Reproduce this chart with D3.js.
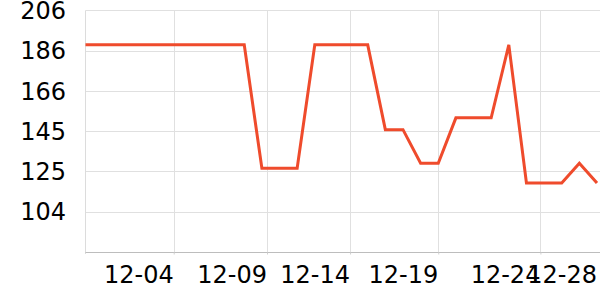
<!DOCTYPE html>
<html>
<head>
<meta charset="utf-8">
<script src="https://cdn.jsdelivr.net/npm/d3@7"></script>
<style>
  html, body { margin: 0; padding: 0; background: #fff; }
  svg { display: block; font-family: "DejaVu Sans", sans-serif; }
</style>
</head>
<body>
<div id="chart"></div>
<script>
const width = 600;
const height = 300;
const margin = { top: 10.5, right: 3, bottom: 48, left: 85.5 };

// daily points, 11-29 .. 12-28
const startDate = "2023-11-29";
const values = [
  189, 189, 189, 189, 189, 189, 189, 189, 189, 189,
  126.5, 126.5, 126.5,
  189, 189, 189, 189,
  146, 146,
  129, 129,
  152, 152, 152,
  189,
  119, 119, 119,
  129,
  119
];

// tick dates as they sit on the original axis
const xTickDates = [
  "2023-12-04T00:00", "2023-12-09T07:00", "2023-12-14T00:00",
  "2023-12-19T00:00", "2023-12-24T19:00", "2023-12-28T00:00"
];
const yDomain = [84, 206.4];
const yTickCount = 6;

const parse = d3.isoParse;
const t0 = parse(startDate + "T00:00");
const dates = d3.range(values.length).map((i) => d3.timeDay.offset(t0, i));
const data = dates.map((d, i) => ({ date: d, value: values[i] }));

const x = d3
  .scaleTime()
  .domain(d3.extent(dates))
  .range([margin.left, width - margin.right]);

const y = d3
  .scaleLinear()
  .domain(yDomain)
  .range([height - margin.bottom, margin.top]);

const yTicks = d3
  .range(yTickCount + 1)
  .map((i) => yDomain[0] + (i * (yDomain[1] - yDomain[0])) / yTickCount);
const xTicks = xTickDates.map(parse);
// the last label sits on the right edge, without a grid line
const gridTicks = xTicks.slice(0, -1);

const svg = d3
  .create("svg")
  .attr("width", width)
  .attr("height", height)
  .attr("viewBox", [0, 0, width, height]);

// horizontal grid
svg
  .append("g")
  .selectAll("line")
  .data(yTicks.slice(1))
  .join("line")
  .attr("x1", margin.left)
  .attr("x2", width)
  .attr("y1", (d) => Math.round(y(d)) + 0.5)
  .attr("y2", (d) => Math.round(y(d)) + 0.5)
  .attr("stroke", "#e0e0e0");

// vertical grid
svg
  .append("g")
  .selectAll("line")
  .data(gridTicks)
  .join("line")
  .attr("x1", (d) => Math.round(x(d)) + 0.5)
  .attr("x2", (d) => Math.round(x(d)) + 0.5)
  .attr("y1", margin.top)
  .attr("y2", height - margin.bottom)
  .attr("stroke", "#e0e0e0");

// left axis line
svg
  .append("line")
  .attr("x1", margin.left)
  .attr("x2", margin.left)
  .attr("y1", margin.top)
  .attr("y2", height - margin.bottom + 2)
  .attr("stroke", "#dcdcdc");

// bottom axis
const gx = svg
  .append("g")
  .attr("transform", `translate(0,${Math.round(height - margin.bottom) + 0.5})`)
  .call(
    d3
      .axisBottom(x)
      .tickValues(xTicks)
      .tickSize(2)
      .tickFormat(d3.timeFormat("%m-%d"))
  );
gx.select(".domain").attr("stroke", "#bdbdbd").attr("d", `M${margin.left},0H${width}`);
gx.selectAll(".tick line")
  .attr("stroke", "#d0d0d0")
  .attr("display", (d, i) => (i === xTicks.length - 1 ? "none" : null));
gx.selectAll(".tick text")
  .attr("text-anchor", "end")
  .attr("x", -0.5)
  .attr("y", 30.5)
  .attr("dy", 0)
  .attr("fill", "#000")
  .attr("font-size", "24px")
  .attr("font-family", "DejaVu Sans, sans-serif");

// y labels
svg
  .append("g")
  .selectAll("text")
  .data(yTicks.slice(1))
  .join("text")
  .attr("x", 66)
  .attr("y", (d) => y(d))
  .attr("dy", "0.36em")
  .attr("text-anchor", "end")
  .attr("font-size", "24px")
  .attr("fill", "#000")
  .text((d) => Math.round(d));

// line
const line = d3
  .line()
  .x((d) => x(d.date))
  .y((d) => y(d.value));

svg
  .append("path")
  .datum(data)
  .attr("fill", "none")
  .attr("stroke", "#ef4b2c")
  .attr("stroke-width", 3)
  .attr("stroke-linejoin", "miter")
  .attr("d", line);

document.getElementById("chart").appendChild(svg.node());
</script>
</body>
</html>
